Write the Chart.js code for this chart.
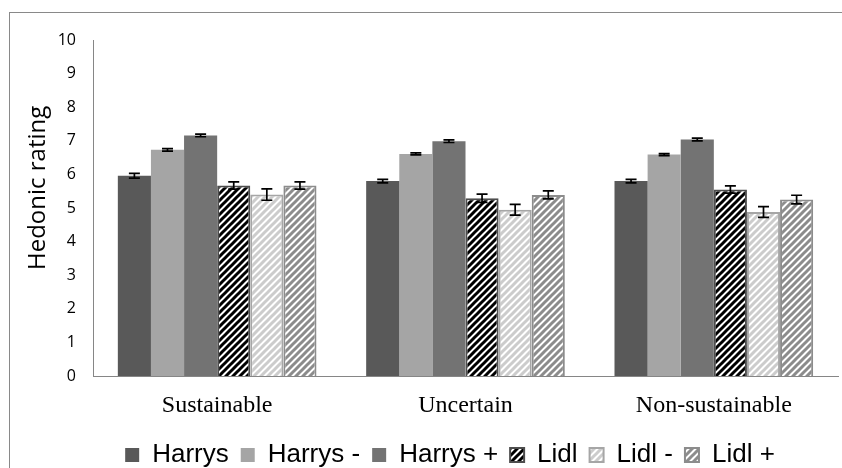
<!DOCTYPE html>
<html><head><meta charset="utf-8">
<script src="https://cdn.jsdelivr.net/npm/chart.js@4.4.1/dist/chart.umd.min.js"></script>
<style>
html,body{margin:0;padding:0;background:#fff;overflow:hidden}
#wrap{position:relative;width:842px;height:468px;overflow:hidden}
#frame{position:absolute;left:9px;top:12px;width:900px;height:500px;border-left:1px solid #898989;border-top:1px solid #898989;}
canvas{position:absolute;left:0;top:0}
</style></head><body>
<div id="wrap"><div id="frame"></div><canvas id="c" width="842" height="468"></canvas></div>
<script>
const categories = ['Sustainable', 'Uncertain', 'Non-sustainable'];
const seriesNames = ['Harrys', 'Harrys -', 'Harrys +', 'Lidl', 'Lidl -', 'Lidl +'];
const harrys = [5.96, 5.80, 5.80];
const harrysMinus = [6.73, 6.61, 6.59];
const harrysPlus = [7.16, 6.99, 7.04];
const lidl = [5.67, 5.29, 5.55];
const lidlMinus = [5.40, 4.95, 4.88];
const lidlPlus = [5.67, 5.39, 5.25];
const harrysErr = [0.07, 0.05, 0.05];
const harrysMinusErr = [0.04, 0.03, 0.03];
const harrysPlusErr = [0.04, 0.04, 0.04];
const lidlErr = [0.11, 0.12, 0.11];
const lidlMinusErr = [0.17, 0.16, 0.16];
const lidlPlusErr = [0.11, 0.12, 0.13];
const yTickValues = [0, 1, 2, 3, 4, 5, 6, 7, 8, 9, 10];
const yTitleText = 'Hedonic rating';

const canvas = document.getElementById('c');
const mainCtx = canvas.getContext('2d');
function stripes(bg, fg, w) {
  const s = 7;
  const c = document.createElement('canvas');
  c.width = s; c.height = s;
  const x = c.getContext('2d');
  x.fillStyle = bg; x.fillRect(0, 0, s, s);
  x.strokeStyle = fg; x.lineWidth = w;
  x.beginPath();
  x.moveTo(-s, s); x.lineTo(s, -s);
  x.moveTo(0, s); x.lineTo(s, 0);
  x.moveTo(0, 2 * s); x.lineTo(2 * s, 0);
  x.stroke();
  return mainCtx.createPattern(c, 'repeat');
}

const errorBars = {
  id: 'errorBars',
  afterDatasetsDraw(chart) {
    const { ctx } = chart;
    const y = chart.scales.y;
    ctx.save();
    ctx.strokeStyle = '#000';
    ctx.lineWidth = 1.7;
    chart.data.datasets.forEach((ds, i) => {
      const meta = chart.getDatasetMeta(i);
      meta.data.forEach((bar, j) => {
        const v = ds.data[j], e = ds.errors[j];
        const yt = y.getPixelForValue(v + e), yb = y.getPixelForValue(v - e);
        const x = bar.x, hw = 5.5;
        ctx.beginPath();
        ctx.moveTo(x, yt); ctx.lineTo(x, yb);
        ctx.moveTo(x - hw, yt); ctx.lineTo(x + hw, yt);
        ctx.moveTo(x - hw, yb); ctx.lineTo(x + hw, yb);
        ctx.stroke();
      });
    });
    ctx.restore();
  }
};

const yTitle = {
  id: 'yTitle',
  afterDraw(chart) {
    const { ctx, chartArea } = chart;
    ctx.save();
    ctx.translate(38, chartArea.top + chartArea.height * 0.44);
    ctx.rotate(-Math.PI / 2);
    ctx.font = '24px "Open Sans"';
    ctx.textAlign = 'center';
    ctx.textBaseline = 'middle';
    ctx.fillStyle = '#000';
    ctx.fillText(yTitleText, 0, 0);
    ctx.restore();
  }
};

const legendShift = {
  id: 'legendShift',
  afterLayout(chart) {
    const l = chart.legend;
    const dx = 31, dy = 10;
    l.left += dx; l.right += dx; l.top += dy; l.bottom += dy;
  }
};

const values = [harrys, harrysMinus, harrysPlus, lidl, lidlMinus, lidlPlus];
const errors = [harrysErr, harrysMinusErr, harrysPlusErr, lidlErr, lidlMinusErr, lidlPlusErr];
const fills = ['#595959', '#a5a5a5', '#737373',
  stripes('#ffffff', '#000000', 3), stripes('#ffffff', '#cccccc', 3), stripes('#ffffff', '#8c8c8c', 3)];
const borders = ['#595959', '#a5a5a5', '#737373', '#4d4d4d', '#a6a6a6', '#8c8c8c'];
const bw = [0, 0, 0, 2, 2, 2];

const chart = new Chart(canvas, {
  type: 'bar',
  data: {
    labels: categories,
    datasets: seriesNames.map((n, i) => ({
      label: n, data: values[i], errors: errors[i],
      backgroundColor: fills[i], borderColor: borders[i], borderWidth: bw[i],
      categoryPercentage: 0.8, barPercentage: 1.0
    }))
  },
  options: {
    responsive: false, animation: false, devicePixelRatio: 1,
    layout: { padding: { top: 40, left: 0, right: 4, bottom: 0 } },
    plugins: {
      tooltip: { enabled: false },
      legend: {
        position: 'bottom',
        labels: { font: { family: '"Liberation Sans", Arial', size: 26 }, color: '#000', boxWidth: 14, boxHeight: 14, padding: 12 }
      }
    },
    scales: {
      x: {
        grid: { display: false, drawTicks: false },
        border: { display: true, color: '#868686', width: 1 },
        ticks: { font: { family: '"Liberation Serif", "Times New Roman"', size: 24 }, color: '#000', padding: 15 },
        afterFit(s) { s.height = 44; }
      },
      y: {
        min: 0, max: 10,
        grid: { display: false, drawTicks: false },
        border: { display: true, color: '#868686', width: 1 },
        afterBuildTicks(s) { s.ticks = yTickValues.map(v => ({ value: v })); },
        ticks: { font: { family: '"Open Sans"', size: 16 }, color: '#000', padding: 17 },
        afterFit(s) { s.width = 93; }
      }
    }
  },
  plugins: [errorBars, yTitle, legendShift]
});
</script>
</body></html>
